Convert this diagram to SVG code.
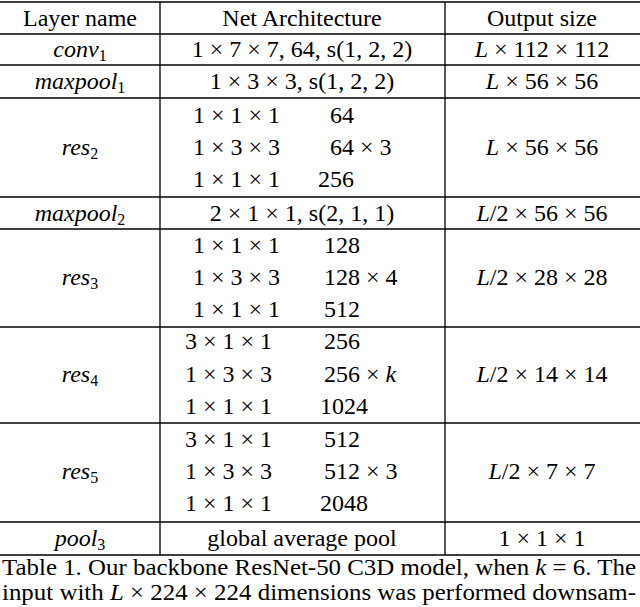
<svg xmlns="http://www.w3.org/2000/svg" width="640" height="607" viewBox="0 0 640 607">
<style>
text{font-family:"Liberation Serif","Times New Roman",serif;font-size:24px;fill:#000}
.c{text-anchor:middle}
.i{font-style:italic}
line{stroke:#000;stroke-width:1.3}
</style>
<rect width="640" height="607" fill="#fff"/>
<g id="grid">
<line x1="0" y1="2" x2="640" y2="2"/>
<line x1="0" y1="34" x2="640" y2="34"/>
<line x1="0" y1="65" x2="640" y2="65"/>
<line x1="0" y1="98" x2="640" y2="98"/>
<line x1="0" y1="197" x2="640" y2="197"/>
<line x1="0" y1="229" x2="640" y2="229"/>
<line x1="0" y1="327" x2="640" y2="327"/>
<line x1="0" y1="423" x2="640" y2="423"/>
<line x1="0" y1="522" x2="640" y2="522"/>
<line x1="0" y1="555" x2="640" y2="555"/>
<line x1="160" y1="2" x2="160" y2="555"/>
<line x1="445" y1="2" x2="445" y2="555"/>
</g>
<g id="header">
<text class="c" x="80" y="26">Layer name</text>
<text class="c" x="302" y="26">Net Architecture</text>
<text class="c" x="542" y="26">Output size</text>
</g>
<g id="conv1">
<text class="c i" x="80" y="57">conv<tspan font-size="16" dy="4" font-style="normal">1</tspan></text>
<text class="c" x="302" y="57">1 × 7 × 7, 64, s(1, 2, 2)</text>
<text class="c" x="542" y="57"><tspan font-style="italic">L</tspan> × 112 × 112</text>
</g>
<g id="maxpool1">
<text class="c i" x="80" y="89">maxpool<tspan font-size="16" dy="4" font-style="normal">1</tspan></text>
<text class="c" x="302" y="89">1 × 3 × 3, s(1, 2, 2)</text>
<text class="c" x="542" y="89"><tspan font-style="italic">L</tspan> × 56 × 56</text>
</g>
<g id="res2">
<text class="c i" x="80" y="155">res<tspan font-size="16" dy="4" font-style="normal">2</tspan></text>
<text x="193" y="123">1 × 1 × 1</text><text x="330" y="123">64</text>
<text x="193" y="155">1 × 3 × 3</text><text x="330" y="155">64  × 3</text>
<text x="193" y="187">1 × 1 × 1</text><text x="318" y="187">256</text>
<text class="c" x="542" y="155"><tspan font-style="italic">L</tspan> × 56 × 56</text>
</g>
<g id="maxpool2">
<text class="c i" x="80" y="221">maxpool<tspan font-size="16" dy="4" font-style="normal">2</tspan></text>
<text class="c" x="302" y="221">2 × 1 × 1, s(2, 1, 1)</text>
<text class="c" x="542" y="221"><tspan font-style="italic">L</tspan>/2 × 56 × 56</text>
</g>
<g id="res3">
<text class="c i" x="80" y="285">res<tspan font-size="16" dy="4" font-style="normal">3</tspan></text>
<text x="193" y="253">1 × 1 × 1</text><text x="324" y="253">128</text>
<text x="193" y="285">1 × 3 × 3</text><text x="324" y="285">128 × 4</text>
<text x="193" y="317">1 × 1 × 1</text><text x="324" y="317">512</text>
<text class="c" x="542" y="285"><tspan font-style="italic">L</tspan>/2 × 28 × 28</text>
</g>
<g id="res4">
<text class="c i" x="80" y="382">res<tspan font-size="16" dy="4" font-style="normal">4</tspan></text>
<text x="185" y="349">3 × 1 × 1</text><text x="324" y="349">256</text>
<text x="185" y="382">1 × 3 × 3</text><text x="324" y="382">256  × <tspan font-style="italic">k</tspan></text>
<text x="185" y="414">1 × 1 × 1</text><text x="320" y="414">1024</text>
<text class="c" x="542" y="382"><tspan font-style="italic">L</tspan>/2 × 14 × 14</text>
</g>
<g id="res5">
<text class="c i" x="80" y="479">res<tspan font-size="16" dy="4" font-style="normal">5</tspan></text>
<text x="185" y="447">3 × 1 × 1</text><text x="324" y="447">512</text>
<text x="185" y="479">1 × 3 × 3</text><text x="324" y="479">512  × 3</text>
<text x="185" y="511">1 × 1 × 1</text><text x="320" y="511">2048</text>
<text class="c" x="542" y="479"><tspan font-style="italic">L</tspan>/2 × 7 × 7</text>
</g>
<g id="pool3">
<text class="c i" x="80" y="546">pool<tspan font-size="16" dy="4" font-style="normal">3</tspan></text>
<text class="c" x="302" y="546">global average pool</text>
<text class="c" x="542" y="546">1 × 1 × 1</text>
</g>
<g id="caption">
<text x="2" y="575" font-size="22" textLength="634" lengthAdjust="spacingAndGlyphs">Table 1. Our backbone ResNet-50 C3D model, when <tspan font-style="italic">k</tspan> = 6. The</text>
<text x="2" y="600" font-size="22" textLength="634" lengthAdjust="spacingAndGlyphs">input with <tspan font-style="italic">L</tspan> × 224 × 224 dimensions was performed downsam-</text>
</g>
</svg>
